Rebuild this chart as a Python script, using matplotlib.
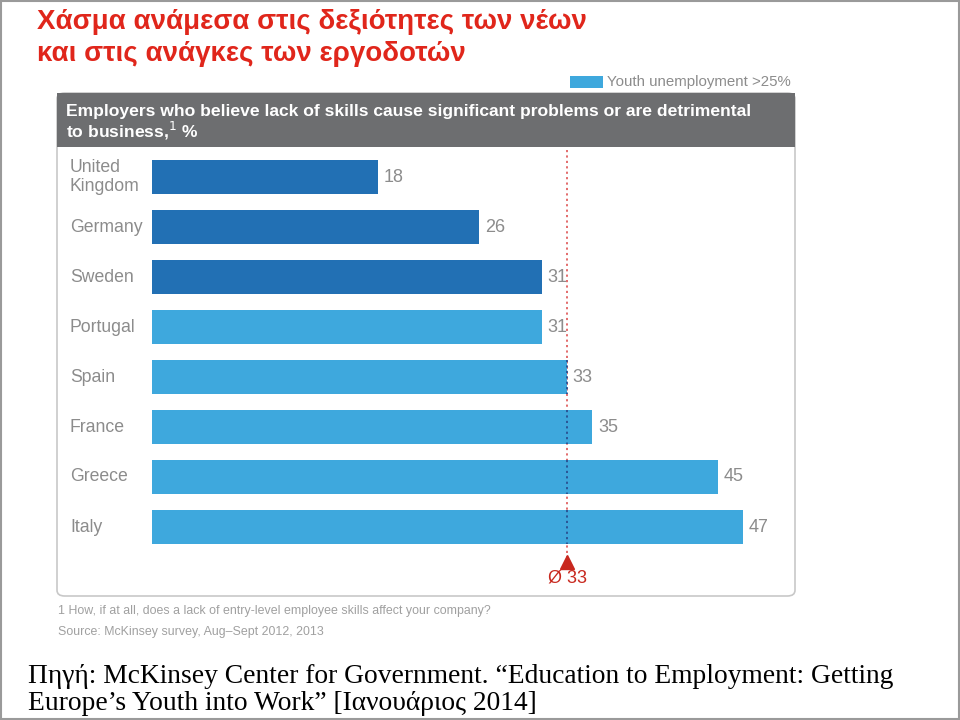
import matplotlib.pyplot as plt
from matplotlib.patches import FancyBboxPatch, Rectangle

# data
countries = ["United\nKingdom", "Germany", "Sweden", "Portugal", "Spain",
             "France", "Greece", "Italy"]
values = [18, 26, 31, 31, 33, 35, 45, 47]
high_youth_unemp = [False, False, False, True, True, True, True, True]
average = 33

dark_blue = "#2270B4"
light_blue = "#3EA8DD"
label_gray = "#8C8C8C"
red = "#E0261B"

fig = plt.figure(figsize=(9.6, 7.2), dpi=100)
W, H = 960, 720


def fx(px):
    return px / W


def fy(py):
    return 1 - py / H


# outer frame
fig.patches.append(Rectangle((0.001, 0.001), 0.998, 0.997, transform=fig.transFigure,
                             fill=False, edgecolor="#9A9A9A", linewidth=1.5, zorder=-2))

# panel with rounded corners
fig.patches.append(FancyBboxPatch((fx(57), fy(596)), fx(795) - fx(57), fy(93) - fy(596),
                                  boxstyle="round,pad=0,rounding_size=0.008",
                                  transform=fig.transFigure, facecolor="white",
                                  edgecolor="#C8C8C8", linewidth=1.2, zorder=-2))
# gray header
fig.patches.append(Rectangle((fx(57), fy(147)), fx(795) - fx(57), fy(93) - fy(147),
                             transform=fig.transFigure, facecolor="#6D6E70",
                             edgecolor="none", zorder=-1))
fig.text(fx(66), fy(123), "Employers who believe lack of skills cause significant problems or are detrimental\n"
         "to business,$^{1}$ %", color="white", fontsize=12.6, fontweight="bold",
         family="Liberation Sans", va="center", ha="left", linespacing=1.0)

# title
fig.text(fx(37), fy(9), "Χάσμα ανάμεσα στις δεξιότητες των νέων\nκαι στις ανάγκες των εργοδοτών",
         color=red, fontsize=20, fontweight="bold", family="Liberation Sans",
         va="top", ha="left", linespacing=1.3)

# legend
fig.patches.append(Rectangle((fx(570), fy(88)), fx(603) - fx(570), fy(76) - fy(88),
                             transform=fig.transFigure, facecolor=light_blue,
                             edgecolor="none"))
fig.text(fx(607), fy(82), "Youth unemployment >25%", color=label_gray, fontsize=10.8,
         family="Liberation Sans", va="center", ha="left")

# bar axes, placed so that value 0 sits at x=152 px and each unit is ~12.6 px
scale = 12.58
ax = fig.add_axes([fx(57), fy(596), fx(795) - fx(57), fy(147) - fy(596)])
ax.set_zorder(5)
ax.set_xlim(-(152 - 57) / scale, (795 - 152) / scale)
ax.set_ylim((596 - 177) / 50, (147 - 177) / 50)
ax.axis("off")

colors = [light_blue if h else dark_blue for h in high_youth_unemp]
ypos = list(range(len(countries)))
ax.barh(ypos, values, height=0.68, color=colors, zorder=2)

for y, v, name in zip(ypos, values, countries):
    ax.text(v + 0.45, y, str(v), color=label_gray, fontsize=13,
            family="Liberation Sans", va="center", ha="left")
    ax.text(-(152 - 70) / scale, y, name, color=label_gray, fontsize=12.7,
            family="Liberation Sans", va="center", ha="left", linespacing=1.1)

# average line
ax.plot([average, average], [-0.55, 7.62], color="#E06060", linestyle=(0, (1.2, 1.8)),
        linewidth=1.3, zorder=1)
for y in ypos:
    if values[y] >= average:
        ax.plot([average, average], [y - 0.34, y + 0.34], color="#2A4F8F",
                linestyle=(0, (1.2, 1.8)), linewidth=1.3, zorder=3)
ax.plot(average, 7.7, marker="^", color="#C8281E", markersize=10, zorder=3)
ax.text(average, 8.02, "Ø 33", color="#C8281E", fontsize=13,
        family="Liberation Sans", ha="center", va="center")

# footnotes
fig.text(fx(58), fy(611), "1 How, if at all, does a lack of entry-level employee skills affect your company?",
         color="#A0A0A0", fontsize=8.9, family="Liberation Sans", va="center", ha="left")
fig.text(fx(58), fy(632), "Source: McKinsey survey, Aug–Sept 2012, 2013",
         color="#A0A0A0", fontsize=8.9, family="Liberation Sans", va="center", ha="left")

# source
fig.text(fx(28), fy(664), "Πηγή: McKinsey Center for Government. “Education to Employment: Getting\n"
         "Europe’s Youth into Work” [Ιανουάριος 2014]", color="black", fontsize=19.8,
         family="Liberation Serif", va="top", ha="left", linespacing=1.08)

fig.savefig("out.png", dpi=100)
